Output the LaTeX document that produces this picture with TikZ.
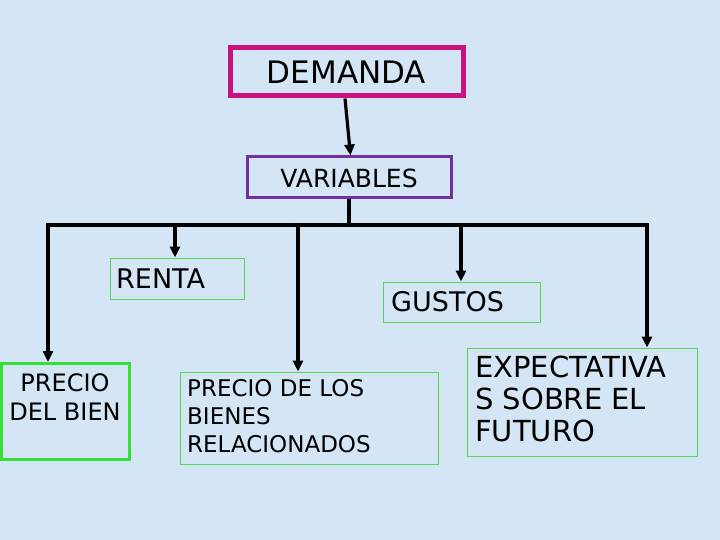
\documentclass[tikz,border=0pt]{standalone}
\usepackage{fontspec}
\setmainfont{DejaVu Sans}
\usetikzlibrary{arrows.meta}
\definecolor{bgblue}{HTML}{D4E6F6}
\definecolor{demmag}{HTML}{C8137F}
\definecolor{varpur}{HTML}{7030A0}
\definecolor{thingreen}{HTML}{55D955}
\definecolor{thickgreen}{HTML}{33E033}
\begin{document}
\begin{tikzpicture}[x=1pt,y=-1pt,
  boxshape/.style={rectangle, inner sep=0pt, anchor=center},
  thinbox/.style={boxshape, draw=thingreen, line width=1pt},
  lbl/.style={inner sep=0pt, text=black},
  conn/.style={line width=3.2pt, draw=black},
  arr/.style={conn, -{Triangle[length=11pt,width=10pt]}}
]
\fill[bgblue] (0,0) rectangle (720,540);
\useasboundingbox (0,0) rectangle (720,540);

% boxes
\node[boxshape, draw=demmag, line width=5pt, minimum width=233pt, minimum height=48pt] (dem) at (346.5,72) {};
\node[boxshape, draw=varpur, line width=3pt, minimum width=204pt, minimum height=41pt] (var) at (349,177.5) {};
\node[thinbox, minimum width=134pt, minimum height=41pt] (renta) at (177,278.5) {};
\node[thinbox, minimum width=157pt, minimum height=40pt] (gustos) at (461.5,302) {};
\node[boxshape, draw=thickgreen, line width=3pt, minimum width=128pt, minimum height=96pt] (pb) at (65,411.5) {};
\node[thinbox, minimum width=258pt, minimum height=92pt] (prb) at (309,418) {};
\node[thinbox, minimum width=230pt, minimum height=108pt] (exp) at (582,402) {};

% texts
\node[lbl, anchor=base, font=\fontsize{31}{34}\selectfont] (demt) at (346.5,84) {DEMANDA};
\node[lbl, anchor=base, font=\fontsize{25}{28}\selectfont] (vart) at (349,188) {VARIABLES};
\node[lbl, anchor=base west, font=\fontsize{27}{30}\selectfont] (rentat) at (116,288) {RENTA};
\node[lbl, anchor=base west, font=\fontsize{27}{30}\selectfont] (gustost) at (391,311) {GUSTOS};
\node[lbl, anchor=north, align=center, font=\fontsize{24}{29}\selectfont] (pbt) at (65,373) {PRECIO\\DEL BIEN};
\node[lbl, anchor=north west, align=left, font=\fontsize{23}{28}\selectfont] (prbt) at (187,379) {PRECIO DE LOS\\BIENES\\RELACIONADOS};
\node[lbl, anchor=north west, align=left, font=\fontsize{29}{32}\selectfont] (expt) at (475,356) {EXPECTATIVA\\S SOBRE EL\\FUTURO};

% connectors
\draw[arr] ([xshift=-1.5pt]dem.south) -- ([xshift=1.5pt]var.north);
\coordinate (barL) at (48,225);
\coordinate (barR) at (647,225);
\coordinate (bR) at (175,225);
\coordinate (bP) at (298,225);
\coordinate (bG) at (461,225);
\draw[conn] (var.south) -- (var.south |- barL);
\draw[conn, line cap=rect] (barL) -- (barR);
\draw[arr] (barL) -- (barL |- pb.north);
\draw[arr] (bR) -- (bR |- renta.north);
\draw[arr] (bP) -- (bP |- prb.north);
\draw[arr] (bG) -- (bG |- gustos.north);
\draw[arr] (barR) -- (barR |- exp.north);
\end{tikzpicture}
\end{document}
